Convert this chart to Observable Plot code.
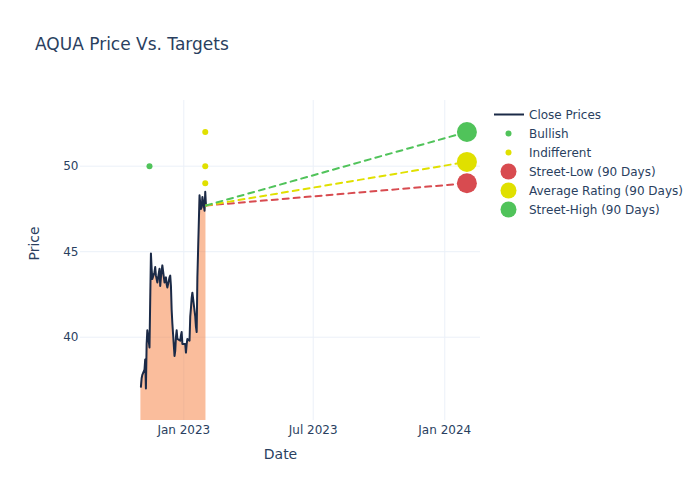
<!DOCTYPE html>
<html><head><meta charset="utf-8">
<script src="https://cdn.jsdelivr.net/npm/d3@7"></script>
<script src="https://cdn.jsdelivr.net/npm/@observablehq/plot@0.6"></script>
<style>
body{margin:0;background:#fff;}
#wrap{position:relative;width:700px;height:500px;font-family:"DejaVu Sans",sans-serif;color:#2a3f5f;background:#fff;}
#title{position:absolute;left:35px;top:34px;font-size:17px;line-height:normal;white-space:nowrap;}
#legend{position:absolute;left:0;top:0;pointer-events:none;}
</style></head>
<body>
<div id="wrap"><div id="chart"></div><div id="title">AQUA Price Vs. Targets</div><svg id="legend" width="700" height="500"></svg></div>
<script>
// ---- data ----
const dates = ["2022-11-02","2022-11-03","2022-11-04","2022-11-07","2022-11-08","2022-11-09","2022-11-10","2022-11-11","2022-11-14","2022-11-16","2022-11-17","2022-11-18","2022-11-21","2022-11-22","2022-11-23","2022-11-25","2022-11-28","2022-11-29","2022-11-30","2022-12-01","2022-12-02","2022-12-05","2022-12-06","2022-12-07","2022-12-08","2022-12-09","2022-12-12","2022-12-13","2022-12-14","2022-12-15","2022-12-16","2022-12-19","2022-12-20","2022-12-21","2022-12-22","2022-12-23","2022-12-27","2022-12-28","2022-12-29","2022-12-30","2023-01-03","2023-01-04","2023-01-05","2023-01-06","2023-01-09","2023-01-10","2023-01-11","2023-01-12","2023-01-13","2023-01-17","2023-01-18","2023-01-19","2023-01-20","2023-01-23","2023-01-24","2023-01-25","2023-01-26","2023-01-27","2023-01-30","2023-01-31","2023-02-01"];
const closes = [37.1,37.6,37.8,38.1,38.7,37.0,39.6,40.4,39.4,44.9,44.0,43.4,43.8,44.1,43.6,43.2,44.0,43.0,43.5,43.9,44.2,43.2,43.4,43.5,43.1,42.9,43.5,43.6,43.0,41.6,40.8,38.9,39.2,40.0,40.4,39.9,39.8,40.1,40.3,39.6,39.6,39.1,39.6,39.9,39.8,41.2,41.7,42.3,42.6,41.2,40.6,40.3,43.5,48.3,47.8,47.5,47.6,48.2,47.4,48.5,47.7];

const bullishDates = ["2022-11-14"];
const bullishValues = [50];
const indifferentDates = ["2023-01-31","2023-01-31","2023-01-31"];
const indifferentValues = [52, 50, 49];

const targetNames = ["Street-Low (90 Days)","Average Rating (90 Days)","Street-High (90 Days)"];
const targetValues = [49, 50.25, 52];
const targetDate = "2024-02-01";
const targetColors = ["#d84b50","#e0e000","#50c35a"];

const xTicks = ["2023-01-01","2023-07-01","2024-01-01"];
const yTicks = [40, 45, 50];

// ---- build ----
const parse = d3.utcParse("%Y-%m-%d");
const prices = dates.map((d,i)=>({date: parse(d), close: closes[i]}));
const bullish = bullishDates.map((d,i)=>({date: parse(d), value: bullishValues[i]}));
const indifferent = indifferentDates.map((d,i)=>({date: parse(d), value: indifferentValues[i]}));
const last = prices[prices.length-1];
const targets = targetNames.map((n,i)=>({name:n, date: parse(targetDate), value: targetValues[i], color: targetColors[i]}));

const yMin = 35.13, yMax = 53.84;
const xDomain = [new Date(Date.UTC(2022,7,9,12)), new Date(Date.UTC(2024,1,20))];

const marks = [
  Plot.gridX(xTicks.map(parse), {stroke:"#ebf0f8", strokeOpacity:1, strokeWidth:1}),
  Plot.gridY(yTicks, {stroke:"#ebf0f8", strokeOpacity:1, strokeWidth:1}),
  Plot.areaY(prices, {x:"date", y1: yMin, y2:"close", fill:"#f57b39", fillOpacity:0.5}),
  Plot.lineY(prices, {x:"date", y:"close", stroke:"#1b2a47", strokeWidth:2}),
  Plot.dot(bullish, {x:"date", y:"value", r:3, fill:"#50c35a"}),
  Plot.dot(indifferent, {x:"date", y:"value", r:3, fill:"#e0e000"})
];
targets.forEach(t=>{
  marks.push(Plot.line([{date:last.date, value:last.close},{date:t.date, value:t.value}],
    {x:"date", y:"value", stroke:t.color, strokeWidth:2, strokeDasharray:"6,5"}));
});
targets.forEach(t=>{
  marks.push(Plot.dot([t], {x:"date", y:"value", r:10, fill:t.color}));
});
marks.push(
  Plot.axisX({ticks: xTicks.map(parse), tickFormat: d3.utcFormat("%b %Y"), tickSize:0, tickPadding:5, label:null, fontSize:12}),
  Plot.axisY({ticks: yTicks, tickSize:0, tickPadding:2, label:null, fontSize:12}),
  Plot.text(["Date"], {text:d=>d, frameAnchor:"bottom", dy:38, fontSize:14, fill:"#2a3f5f"}),
  Plot.text(["Price"], {text:d=>d, frameAnchor:"left", dx:-46, rotate:-90, fontSize:14, fill:"#2a3f5f"})
);

const chart = Plot.plot({
  width:700, height:500,
  marginLeft:80, marginRight:220, marginTop:100, marginBottom:80,
  style:{fontFamily:"DejaVu Sans", fontSize:"12px", color:"#2a3f5f", background:"transparent", overflow:"visible"},
  x:{type:"utc", domain:xDomain},
  y:{domain:[yMin, yMax]},
  marks
});
document.getElementById("chart").appendChild(chart);

// ---- legend ----
const legendItems = [
  {label:"Close Prices", kind:"line", color:"#1b2a47"},
  {label:"Bullish", kind:"dot", color:"#50c35a", r:3},
  {label:"Indifferent", kind:"dot", color:"#e0e000", r:3},
  ...targetNames.map((n,i)=>({label:n, kind:"dot", color:targetColors[i], r:8}))
];
const lg = d3.select("#legend");
legendItems.forEach((it,i)=>{
  const y = 114.5 + i*19;
  if (it.kind==="line") {
    lg.append("line").attr("x1",494).attr("x2",524).attr("y1",y).attr("y2",y)
      .attr("stroke",it.color).attr("stroke-width",2);
  } else {
    lg.append("circle").attr("cx",508.5).attr("cy",y).attr("r",it.r).attr("fill",it.color);
  }
  lg.append("text").attr("x",529).attr("y",y).attr("dy","0.35em")
    .attr("font-family","DejaVu Sans").attr("font-size",12).attr("fill","#2a3f5f").text(it.label);
});
</script>
</body></html>
